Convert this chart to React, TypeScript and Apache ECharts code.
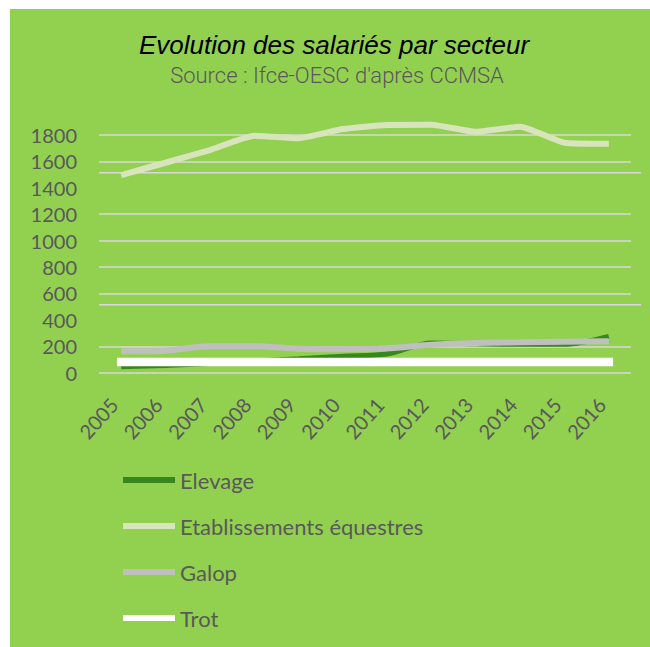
import React, { useEffect, useRef } from "react";
import * as echarts from "echarts";

const years = ["2005", "2006", "2007", "2008", "2009", "2010", "2011", "2012", "2013", "2014", "2015", "2016"];
const elevage = [45, 55, 70, 88, 105, 125, 142, 225, 220, 215, 215, 275];
const etablissements = [1497, 1590, 1686, 1795, 1775, 1845, 1876, 1878, 1825, 1863, 1742, 1734];
const galop = [162, 167, 201, 201, 182, 178, 185, 212, 225, 230, 235, 239];
const trot = [81, 81, 81, 81, 81, 81, 81, 81, 81, 81, 81, 81];
const yTicks = [0, 200, 400, 600, 800, 1000, 1200, 1400, 1600, 1800, 2000];
const hiddenGridValues = [400, 1400, 2000];
const breakLines = [515, 1515];
const seriesNames = ["Elevage", "Etablissements équestres", "Galop", "Trot"];
const titleText = "Evolution des salariés par secteur";
const subtitleText = "Source : Ifce-OESC d'après CCMSA";

export default function App() {
  const ref = useRef<HTMLDivElement>(null);
  useEffect(() => {
    document.body.style.margin = "0";
    const chart = echarts.init(ref.current!, null, { renderer: "svg" });
    const gridColor = "#d9d9d9";
    const textGrey = "#595959";
    const gridLeft = 89;
    const gridRight = 19;
    const width = 640;
    const splitColors = yTicks.map((v) => (hiddenGridValues.includes(v) ? "rgba(0,0,0,0)" : gridColor));
    const colors = ["#37861e", "#d8e4bc", "#bfbfbf", "#ffffff"];
    const widths = [5, 6, 6, 8.5];
    const smooths = [0.3, 0.15, 0.3, 0];
    const datas = [elevage, etablissements, galop, trot];
    chart.setOption({
      animation: false,
      backgroundColor: "#92d050",
      grid: { left: gridLeft, right: gridRight, top: 99.6, bottom: 274.3 },
      xAxis: {
        type: "category",
        data: years,
        boundaryGap: true,
        axisLine: { show: false },
        axisTick: { show: false },
        splitLine: { show: false },
        axisLabel: {
          rotate: 48,
          margin: 20,
          padding: [0, 11, 0, 0],
          fontSize: 20,
          fontFamily: "Lato",
          color: textGrey,
          interval: 0,
        },
      },
      yAxis: {
        type: "value",
        min: 0,
        max: 2000,
        interval: 200,
        axisLine: { show: false },
        axisTick: { show: false },
        axisLabel: {
          showMaxLabel: false,
          margin: 22,
          fontSize: 20,
          fontFamily: "Lato",
          color: textGrey,
          formatter: (v: number) => String(v),
        },
        splitLine: { show: true, lineStyle: { color: splitColors, width: 1.5 } },
      },
      legend: {
        orient: "vertical",
        left: 113,
        top: 460,
        padding: 0,
        itemWidth: 52,
        itemHeight: 6,
        itemGap: 24,
        icon: "rect",
        selectedMode: false,
        data: seriesNames,
        textStyle: { color: textGrey, fontFamily: "Lato", fontSize: 22, lineHeight: 22 },
      },
      series: seriesNames.map((name, i) => ({
        name,
        type: "line",
        data: datas[i],
        symbol: "none",
        smooth: smooths[i],
        z: 2 + i,
        itemStyle: { color: colors[i] },
        lineStyle: { color: colors[i], width: widths[i], cap: name === "Trot" ? "square" : "butt" },
      })),
    });
    const breakGraphics = breakLines.map((v) => {
      const y = chart.convertToPixel({ yAxisIndex: 0 }, v) as number;
      return {
        type: "line",
        silent: true,
        z: 1,
        shape: { x1: gridLeft, y1: y, x2: width - gridRight + 10, y2: y },
        style: { stroke: gridColor, lineWidth: 1.5 },
      };
    });
    chart.setOption({
      graphic: [
        {
          type: "text",
          x: 324,
          y: 36,
          style: {
            text: titleText,
            fill: "#000000",
            font: "italic 26px 'Liberation Sans', Arial, sans-serif",
            textAlign: "center",
            textVerticalAlign: "middle",
          },
        },
        {
          type: "text",
          x: 327,
          y: 66,
          style: {
            text: subtitleText,
            fill: textGrey,
            font: "300 22px Roboto, sans-serif",
            textAlign: "center",
            textVerticalAlign: "middle",
          },
        },
        ...breakGraphics,
      ],
    });
    return () => chart.dispose();
  }, []);
  return (
    <div style={{ position: "relative", width: 650, height: 647, background: "#ffffff" }}>
      <div ref={ref} style={{ position: "absolute", left: 10, top: 9, width: 640, height: 638 }} />
    </div>
  );
}
